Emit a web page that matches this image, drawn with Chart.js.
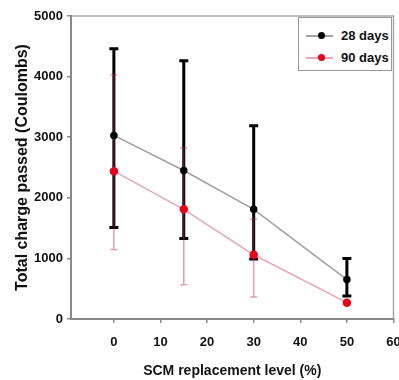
<!DOCTYPE html>
<html>
<head>
<meta charset="utf-8">
<script src="https://cdn.jsdelivr.net/npm/chart.js@4"></script>
<style>
  body { margin: 0; background: #fff; }
  #wrap { position: relative; width: 399px; height: 380px; }
  #legend {
    position: absolute; left: 298px; top: 17px; width: 94px; height: 54px;
    border: 1px solid #999; background: #fff; box-sizing: border-box;
    font: bold 13px "Liberation Sans", Arial, sans-serif; color: #111;
  }
  .row { position: absolute; left: 0; height: 16px; width: 100%; }
  .row .ln { position: absolute; left: 7px; top: 7px; width: 27px; height: 2px; }
  .row .dot { position: absolute; left: 19px; top: 4px; width: 7px; height: 7px; border-radius: 50%; }
  .row .tx { position: absolute; left: 42px; top: 0; line-height: 16px; }
</style>
</head>
<body>
<div id="wrap">
  <canvas id="chart" width="399" height="380"></canvas>
  <div id="legend"></div>
</div>
<script>
// replacement levels (%)
const levels = [0, 15, 30, 50];

// 28 days: mean and error bar ends
const mean28 = [3030, 2450, 1810, 650];
const low28  = [1510, 1330, 990, 380];
const high28 = [4460, 4260, 3190, 1000];

// 90 days
const mean90 = [2440, 1810, 1060, 270];
const low90  = [1145, 565, 365, 270];
const high90 = [4030, 2820, 1645, 270];

const xTicks = [0, 10, 20, 30, 40, 50, 60];
const yTicks = [0, 1000, 2000, 3000, 4000, 5000];

const seriesNames = ["28 days", "90 days"];

const font = "'Liberation Sans', Arial, sans-serif";

// error bars, drawn behind the lines and markers
const errorBars = {
  id: "errorBars",
  beforeDatasetsDraw(chart) {
    const c = chart.ctx;
    const xs = chart.scales.x, ys = chart.scales.y;
    const bars = [
      { low: low28, high: high28, color: "#000", width: 3, cap: 4.5 },
      { low: low90, high: high90, color: "rgba(190,40,70,0.45)", width: 1.5, cap: 3.5 }
    ];
    c.save();
    bars.forEach(b => {
      c.strokeStyle = b.color;
      c.lineWidth = b.width;
      levels.forEach((lv, i) => {
        if (b.low[i] === b.high[i]) return;
        const x = xs.getPixelForValue(lv);
        const y1 = ys.getPixelForValue(b.low[i]);
        const y2 = ys.getPixelForValue(b.high[i]);
        c.beginPath();
        c.moveTo(x, y1); c.lineTo(x, y2);
        c.moveTo(x - b.cap, y1); c.lineTo(x + b.cap, y1);
        c.moveTo(x - b.cap, y2); c.lineTo(x + b.cap, y2);
        c.stroke();
      });
    });
    c.restore();
  }
};

// top and right frame of the plot area
const frame = {
  id: "frame",
  beforeDraw(chart) {
    const a = chart.chartArea, c = chart.ctx;
    c.save();
    c.strokeStyle = "#a8a8a8";
    c.lineWidth = 1.5;
    c.beginPath();
    c.moveTo(a.left, a.top); c.lineTo(a.right, a.top); c.lineTo(a.right, a.bottom);
    c.stroke();
    c.restore();
  }
};

const chart = new Chart(document.getElementById("chart"), {
  type: "line",
  data: {
    datasets: [
      {
        label: seriesNames[0],
        data: levels.map((x, i) => ({ x, y: mean28[i] })),
        borderColor: "#a0a0a0",
        borderWidth: 1.5,
        pointBackgroundColor: "#000",
        pointBorderColor: "#000",
        pointRadius: 3,
        tension: 0
      },
      {
        label: seriesNames[1],
        data: levels.map((x, i) => ({ x, y: mean90[i] })),
        borderColor: "#e8a6b4",
        borderWidth: 1.5,
        pointBackgroundColor: "#e8001c",
        pointBorderColor: "#e8001c",
        pointRadius: 3.5,
        tension: 0
      }
    ]
  },
  options: {
    responsive: false,
    animation: false,
    layout: { padding: { left: 0, right: 5, top: 16, bottom: 0 } },
    plugins: { legend: { display: false }, tooltip: { enabled: false } },
    scales: {
      x: {
        type: "linear",
        min: -9.2,
        max: 60,
        afterBuildTicks: s => { s.ticks = xTicks.map(v => ({ value: v })); },
        afterFit: s => { s.height = 61; s.paddingLeft = 0; s.paddingRight = 0; },
        grid: { display: true, drawOnChartArea: false, drawTicks: true, tickLength: 4, color: "#888", lineWidth: 1.5 },
        border: { color: "#888", width: 2 },
        ticks: { padding: 12, maxRotation: 0, color: "#111", callback: v => String(v), font: { family: font, size: 13, weight: "bold" } },
        title: {
          display: true,
          text: "SCM replacement level (%)",
          color: "#111",
          padding: { top: 0, bottom: 0 },
          font: { family: font, size: 14, weight: "bold" }
        }
      },
      y: {
        min: 0,
        max: 5000,
        afterBuildTicks: s => { s.ticks = yTicks.map(v => ({ value: v })); },
        afterFit: s => { s.width = 71; s.paddingTop = 0; s.paddingBottom = 0; },
        grid: { display: true, drawOnChartArea: false, drawTicks: true, tickLength: 4, color: "#888", lineWidth: 1.5 },
        border: { color: "#888", width: 2 },
        ticks: { padding: 4, color: "#111", callback: v => String(v), font: { family: font, size: 13, weight: "bold" } },
        title: {
          display: true,
          text: "Total charge passed (Coulombs)",
          color: "#111",
          padding: { top: 13, bottom: 0 },
          font: { family: font, size: 16, weight: "bold" }
        }
      }
    }
  },
  plugins: [frame, errorBars]
});

// legend built from the datasets
const legendEl = document.getElementById("legend");
chart.data.datasets.forEach((ds, i) => {
  const row = document.createElement("div");
  row.className = "row";
  row.style.top = (10 + i * 22) + "px";
  row.innerHTML =
    '<span class="ln" style="background:' + ds.borderColor + '"></span>' +
    '<span class="dot" style="background:' + ds.pointBackgroundColor + '"></span>' +
    '<span class="tx">' + ds.label + '</span>';
  legendEl.appendChild(row);
});
</script>
</body>
</html>
